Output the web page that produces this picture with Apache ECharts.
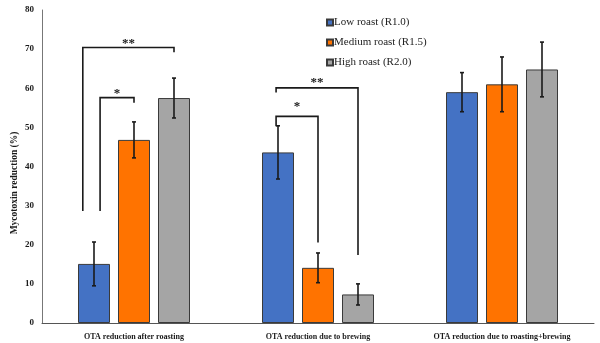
<!DOCTYPE html>
<html>
<head>
<meta charset="utf-8">
<script src="https://cdn.jsdelivr.net/npm/echarts@6/dist/echarts.min.js"></script>
<style>
  html, body { margin: 0; padding: 0; background: #fff; }
  #chart { width: 600px; height: 343px; }
</style>
</head>
<body>
<div id="chart"></div>
<script>
// Mycotoxin (OTA) reduction by roast level
const categories = ['OTA reduction after roasting', 'OTA reduction due to brewing', 'OTA reduction due to roasting+brewing'];
const seriesNames = ['Low roast (R1.0)', 'Medium roast (R1.5)', 'High roast (R2.0)'];
const lowRoast = [15.1, 43.6, 59.0];
const mediumRoast = [46.8, 14.1, 61.0];
const highRoast = [57.5, 7.3, 64.8];
const lowRoastErr = [5.6, 6.8, 5.0];
const mediumRoastErr = [4.6, 3.8, 7.0];
const highRoastErr = [5.1, 2.7, 7.0];
const yTicks = [0, 10, 20, 30, 40, 50, 60, 70, 80];

// significance brackets: category, first bar, second bar, bracket level, drop ends, label
const bracketCategory = [0, 0, 1, 1];
const bracketFromBar = [0, 0, 0, 0];
const bracketToBar = [1, 2, 1, 2];
const bracketLevel = [57.6, 70.4, 52.8, 60.1];
const bracketLeftEnd = [28.6, 28.6, 50.3, 58.9];
const bracketRightEnd = [56.3, 69.2, 20.6, 17.4];
const bracketLabel = ['*', '**', '*', '**'];
const bracketLabelLevel = [58.6, 71.4, 55.4, 61.4];

const values = [lowRoast, mediumRoast, highRoast];
const errors = [lowRoastErr, mediumRoastErr, highRoastErr];
const colors = ['#4472C4', '#FF7300', '#A5A5A5'];

const BAR_W = 32;
const BAR_GAP = 0.25;
const SERIF = '"Liberation Serif", "Times New Roman", serif';
// horizontal nudge of each bracket's left leg, in bar widths
const bracketLeftNudge = [0.19, -0.35, -0.06, -0.06];

function barOffset(i) {
  return (i - 1) * BAR_W * (1 + BAR_GAP);
}

const chart = echarts.init(document.getElementById('chart'), null, { renderer: 'canvas' });

const series = [];
values.forEach((vals, i) => {
  series.push({
    name: seriesNames[i],
    type: 'bar',
    data: vals,
    barWidth: BAR_W,
    barGap: (BAR_GAP * 100) + '%',
    itemStyle: { color: colors[i], borderColor: '#3a3a3a', borderWidth: 1 },
    emphasis: { disabled: true },
    z: 2
  });
});

// error bars
values.forEach((vals, i) => {
  series.push({
    type: 'custom',
    name: 'err' + i,
    data: vals.map((v, k) => [k, v - errors[i][k], v + errors[i][k]]),
    z: 5,
    silent: true,
    renderItem: function (params, api) {
      const lo = api.coord([api.value(0), api.value(1)]);
      const hi = api.coord([api.value(0), api.value(2)]);
      const x = lo[0] + barOffset(i);
      const cap = 2;
      const style = { stroke: '#1a1a1a', lineWidth: 1.6 };
      return {
        type: 'group',
        children: [
          { type: 'line', shape: { x1: x, y1: lo[1], x2: x, y2: hi[1] }, style: style },
          { type: 'line', shape: { x1: x - cap, y1: lo[1], x2: x + cap, y2: lo[1] }, style: style },
          { type: 'line', shape: { x1: x - cap, y1: hi[1], x2: x + cap, y2: hi[1] }, style: style }
        ]
      };
    }
  });
});

// significance brackets
series.push({
  type: 'custom',
  name: 'brackets',
  silent: true,
  z: 6,
  data: bracketCategory.map((c, k) => [c, bracketLevel[k], bracketLeftEnd[k], bracketRightEnd[k], bracketLabelLevel[k]]),
  renderItem: function (params, api) {
    const k = params.dataIndex;
    const cat = api.value(0);
    const top = api.coord([cat, api.value(1)]);
    const leftEnd = api.coord([cat, api.value(2)]);
    const rightEnd = api.coord([cat, api.value(3)]);
    const lab = api.coord([cat, api.value(4)]);
    const xl = top[0] + barOffset(bracketFromBar[k]) + bracketLeftNudge[k] * BAR_W;
    const xr = top[0] + barOffset(bracketToBar[k]);
    const style = { stroke: '#1a1a1a', lineWidth: 1.6, fill: null };
    return {
      type: 'group',
      children: [
        {
          type: 'polyline',
          shape: { points: [[xl, leftEnd[1]], [xl, top[1]], [xr, top[1]], [xr, rightEnd[1]]] },
          style: style
        },
        {
          type: 'text',
          style: {
            x: (xl + xr) / 2,
            y: lab[1],
            text: bracketLabel[k],
            align: 'center',
            verticalAlign: 'middle',
            fill: '#1a1a1a',
            font: 'bold 13px ' + SERIF
          }
        }
      ]
    };
  }
});

chart.setOption({
  animation: false,
  backgroundColor: '#ffffff',
  grid: { left: 42, right: 6, top: 10, bottom: 20, containLabel: false },
  legend: {
    data: seriesNames,
    orient: 'vertical',
    left: 321,
    top: 12,
    itemWidth: 6,
    itemHeight: 6,
    itemGap: 9,
    icon: 'rect',
    selectedMode: false,
    textStyle: { fontFamily: SERIF, fontSize: 11, color: '#222', padding: [0, 0, 0, -4] }
  },
  xAxis: {
    type: 'category',
    data: categories,
    axisLine: { lineStyle: { color: '#555', width: 1 } },
    axisTick: { show: false },
    axisLabel: {
      interval: 0,
      margin: 10,
      fontFamily: SERIF,
      fontWeight: 'bold',
      fontSize: 8,
      color: '#1a1a1a'
    }
  },
  yAxis: {
    type: 'value',
    min: yTicks[0],
    max: yTicks[yTicks.length - 1],
    interval: yTicks[1] - yTicks[0],
    axisLine: { show: true, lineStyle: { color: '#777', width: 1 } },
    axisTick: { show: false },
    splitLine: { show: false },
    axisLabel: {
      margin: 8,
      fontFamily: SERIF,
      fontWeight: 'bold',
      fontSize: 9,
      color: '#1a1a1a'
    }
  },
  graphic: [{
    type: 'text',
    x: 15,
    y: 183,
    rotation: Math.PI / 2,
    style: {
      text: 'Mycotoxin reduction (%)',
      align: 'center',
      verticalAlign: 'middle',
      font: 'bold 9.5px ' + SERIF,
      fill: '#1a1a1a'
    }
  }],
  series: series
});
</script>
</body>
</html>
